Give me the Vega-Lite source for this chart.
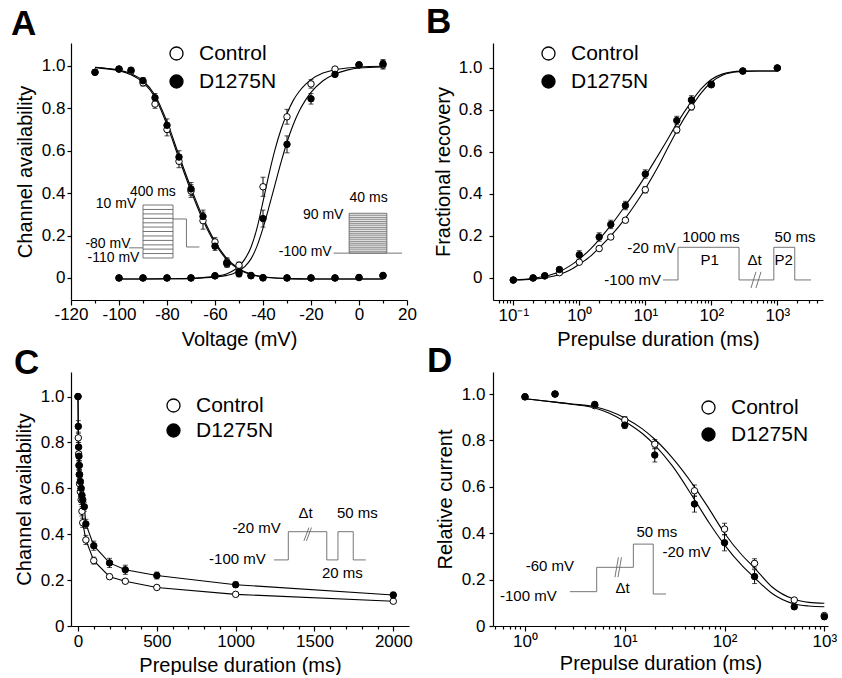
{
"$schema": "https://vega.github.io/schema/vega-lite/v6.json",
"padding": {"left": 11, "top": 5, "right": 5, "bottom": 0},
"config": {
 "font": "Liberation Sans",
 "view": {"stroke": null},
 "axis": {"grid": false, "domainColor": "#000", "tickColor": "#000", "labelColor": "#000", "titleColor": "#000", "labelFontSize": 17, "titleFontSize": 20, "titleFontWeight": "normal", "labelFont": "Liberation Sans", "titleFont": "Liberation Sans", "domainWidth": 1.2, "tickWidth": 1.2, "labelFlush": false, "labelOverlap": false},
 "legend": {"labelFontSize": 21, "labelFont": "Liberation Sans", "labelColor": "#000", "symbolType": "circle", "symbolSize": 170, "symbolStrokeColor": "#000", "symbolStrokeWidth": 1.3, "labelOffset": 12, "rowPadding": 6, "padding": 0},
 "title": {"font": "Liberation Sans", "fontSize": 35, "fontWeight": "bold", "color": "#000", "anchor": "start", "frame": "group", "offset": 0, "baseline": "alphabetic"}
},
"datasets": {
 "a_pts": [
  {"g":"Control","v":-110,"y":0.97,"e":0.01},{"g":"Control","v":-100,"y":0.985,"e":0.01},{"g":"Control","v":-95,"y":0.975,"e":0.012},{"g":"Control","v":-90,"y":0.92,"e":0.015},{"g":"Control","v":-85,"y":0.82,"e":0.02},{"g":"Control","v":-80,"y":0.70,"e":0.03},{"g":"Control","v":-75,"y":0.55,"e":0.03},{"g":"Control","v":-70,"y":0.41,"e":0.03},{"g":"Control","v":-65,"y":0.27,"e":0.04},{"g":"Control","v":-60,"y":0.17,"e":0.02},{"g":"Control","v":-55,"y":0.075,"e":0.02},{"g":"Control","v":-50,"y":0.05,"e":0.02},{"g":"Control","v":-45,"y":0.012,"e":0.01},{"g":"Control","v":-40,"y":0.002,"e":0},{"g":"Control","v":-30,"y":0.0,"e":0},{"g":"Control","v":-20,"y":0.0,"e":0},{"g":"Control","v":-10,"y":0.0,"e":0},{"g":"Control","v":0,"y":0.002,"e":0},{"g":"Control","v":10,"y":0.01,"e":0},
  {"g":"Control","v":-100,"y":0.0,"e":0},{"g":"Control","v":-90,"y":0.0,"e":0},{"g":"Control","v":-80,"y":0.0,"e":0},{"g":"Control","v":-70,"y":0.0,"e":0},{"g":"Control","v":-60,"y":0.01,"e":0},{"g":"Control","v":-55,"y":0.065,"e":0.01},{"g":"Control","v":-50,"y":0.06,"e":0.015},{"g":"Control","v":-40,"y":0.43,"e":0.045},{"g":"Control","v":-30,"y":0.76,"e":0.035},{"g":"Control","v":-20,"y":0.915,"e":0.02},{"g":"Control","v":-10,"y":0.985,"e":0.008},{"g":"Control","v":0,"y":1.005,"e":0},{"g":"Control","v":10,"y":1.005,"e":0.02},
  {"g":"D1275N","v":-110,"y":0.97,"e":0.01},{"g":"D1275N","v":-100,"y":0.985,"e":0.008},{"g":"D1275N","v":-95,"y":0.98,"e":0.01},{"g":"D1275N","v":-90,"y":0.93,"e":0.015},{"g":"D1275N","v":-85,"y":0.85,"e":0.02},{"g":"D1275N","v":-80,"y":0.72,"e":0.03},{"g":"D1275N","v":-75,"y":0.57,"e":0.03},{"g":"D1275N","v":-70,"y":0.42,"e":0.03},{"g":"D1275N","v":-65,"y":0.29,"e":0.03},{"g":"D1275N","v":-60,"y":0.15,"e":0.02},{"g":"D1275N","v":-55,"y":0.07,"e":0.02},{"g":"D1275N","v":-50,"y":0.03,"e":0.02},{"g":"D1275N","v":-45,"y":0.01,"e":0.01},{"g":"D1275N","v":-40,"y":0.0,"e":0},{"g":"D1275N","v":-30,"y":0.0,"e":0},{"g":"D1275N","v":-20,"y":0.0,"e":0},{"g":"D1275N","v":-10,"y":0.0,"e":0},{"g":"D1275N","v":0,"y":0.002,"e":0},{"g":"D1275N","v":10,"y":0.012,"e":0},
  {"g":"D1275N","v":-100,"y":0.0,"e":0},{"g":"D1275N","v":-90,"y":0.0,"e":0},{"g":"D1275N","v":-80,"y":0.0,"e":0},{"g":"D1275N","v":-70,"y":0.0,"e":0},{"g":"D1275N","v":-60,"y":0.01,"e":0},{"g":"D1275N","v":-55,"y":0.07,"e":0.01},{"g":"D1275N","v":-50,"y":0.02,"e":0.015},{"g":"D1275N","v":-40,"y":0.28,"e":0.04},{"g":"D1275N","v":-30,"y":0.63,"e":0.04},{"g":"D1275N","v":-20,"y":0.845,"e":0.025},{"g":"D1275N","v":-10,"y":0.96,"e":0.01},{"g":"D1275N","v":0,"y":1.005,"e":0},{"g":"D1275N","v":10,"y":1.01,"e":0.02}
 ],
 "a_fit": [
  {"c":"ic","v":-110,"y":0.992},{"c":"ic","v":-105,"y":0.986},{"c":"ic","v":-100,"y":0.977},{"c":"ic","v":-95,"y":0.958},{"c":"ic","v":-90,"y":0.922},{"c":"ic","v":-85,"y":0.852},{"c":"ic","v":-80,"y":0.722},{"c":"ic","v":-75,"y":0.563},{"c":"ic","v":-70,"y":0.41},{"c":"ic","v":-65,"y":0.272},{"c":"ic","v":-60,"y":0.163},{"c":"ic","v":-55,"y":0.085},{"c":"ic","v":-50,"y":0.04},{"c":"ic","v":-45,"y":0.016},{"c":"ic","v":-40,"y":0.005},{"c":"ic","v":-35,"y":0.0},{"c":"ic","v":-30,"y":-0.003},{"c":"ic","v":-20,"y":-0.005},{"c":"ic","v":-10,"y":-0.005},{"c":"ic","v":0,"y":-0.005},{"c":"ic","v":10,"y":-0.005},
  {"c":"id","v":-110,"y":0.993},{"c":"id","v":-105,"y":0.988},{"c":"id","v":-100,"y":0.98},{"c":"id","v":-95,"y":0.963},{"c":"id","v":-90,"y":0.93},{"c":"id","v":-85,"y":0.862},{"c":"id","v":-80,"y":0.737},{"c":"id","v":-75,"y":0.578},{"c":"id","v":-70,"y":0.425},{"c":"id","v":-65,"y":0.285},{"c":"id","v":-60,"y":0.172},{"c":"id","v":-55,"y":0.091},{"c":"id","v":-50,"y":0.044},{"c":"id","v":-45,"y":0.018},{"c":"id","v":-40,"y":0.006},{"c":"id","v":-35,"y":0.0},{"c":"id","v":-30,"y":-0.003},{"c":"id","v":-20,"y":-0.005},{"c":"id","v":-10,"y":-0.005},{"c":"id","v":0,"y":-0.005},{"c":"id","v":10,"y":-0.005},
  {"c":"ac","v":-100,"y":-0.005},{"c":"ac","v":-90,"y":-0.005},{"c":"ac","v":-80,"y":-0.004},{"c":"ac","v":-70,"y":-0.002},{"c":"ac","v":-65,"y":0.002},{"c":"ac","v":-60,"y":0.008},{"c":"ac","v":-55,"y":0.02},{"c":"ac","v":-52.5,"y":0.034},{"c":"ac","v":-50,"y":0.055},{"c":"ac","v":-47.5,"y":0.09},{"c":"ac","v":-45,"y":0.145},{"c":"ac","v":-42.5,"y":0.235},{"c":"ac","v":-40,"y":0.36},{"c":"ac","v":-37.5,"y":0.49},{"c":"ac","v":-35,"y":0.605},{"c":"ac","v":-32.5,"y":0.7},{"c":"ac","v":-30,"y":0.775},{"c":"ac","v":-27.5,"y":0.835},{"c":"ac","v":-25,"y":0.878},{"c":"ac","v":-22.5,"y":0.91},{"c":"ac","v":-20,"y":0.935},{"c":"ac","v":-15,"y":0.966},{"c":"ac","v":-10,"y":0.982},{"c":"ac","v":-5,"y":0.99},{"c":"ac","v":0,"y":0.995},{"c":"ac","v":10,"y":0.998},
  {"c":"ad","v":-100,"y":-0.005},{"c":"ad","v":-90,"y":-0.005},{"c":"ad","v":-80,"y":-0.004},{"c":"ad","v":-70,"y":-0.003},{"c":"ad","v":-65,"y":0.0},{"c":"ad","v":-60,"y":0.004},{"c":"ad","v":-55,"y":0.012},{"c":"ad","v":-52.5,"y":0.02},{"c":"ad","v":-50,"y":0.034},{"c":"ad","v":-47.5,"y":0.055},{"c":"ad","v":-45,"y":0.09},{"c":"ad","v":-42.5,"y":0.15},{"c":"ad","v":-40,"y":0.235},{"c":"ad","v":-37.5,"y":0.335},{"c":"ad","v":-35,"y":0.44},{"c":"ad","v":-32.5,"y":0.545},{"c":"ad","v":-30,"y":0.64},{"c":"ad","v":-27.5,"y":0.72},{"c":"ad","v":-25,"y":0.785},{"c":"ad","v":-22.5,"y":0.835},{"c":"ad","v":-20,"y":0.875},{"c":"ad","v":-15,"y":0.93},{"c":"ad","v":-10,"y":0.962},{"c":"ad","v":-5,"y":0.98},{"c":"ad","v":0,"y":0.99},{"c":"ad","v":10,"y":0.995}
 ],
 "a_ins": [
  {"x":-90,"x2":-77.5,"y":0.094,"y2":0.094},{"x":-90,"x2":-77.5,"y":0.115,"y2":0.115},{"x":-90,"x2":-77.5,"y":0.136,"y2":0.136},{"x":-90,"x2":-77.5,"y":0.156,"y2":0.156},{"x":-90,"x2":-77.5,"y":0.177,"y2":0.177},{"x":-90,"x2":-77.5,"y":0.198,"y2":0.198},{"x":-90,"x2":-77.5,"y":0.219,"y2":0.219},{"x":-90,"x2":-77.5,"y":0.24,"y2":0.24},{"x":-90,"x2":-77.5,"y":0.26,"y2":0.26},{"x":-90,"x2":-77.5,"y":0.281,"y2":0.281},{"x":-90,"x2":-77.5,"y":0.302,"y2":0.302},{"x":-90,"x2":-77.5,"y":0.323,"y2":0.323},{"x":-90,"x2":-77.5,"y":0.344,"y2":0.344},
  {"x":-90,"x2":-90,"y":0.094,"y2":0.344},{"x":-77.5,"x2":-77.5,"y":0.094,"y2":0.344},
  {"x":-95.8,"x2":-90,"y":0.142,"y2":0.142},
  {"x":-77.5,"x2":-71.9,"y":0.278,"y2":0.278},{"x":-71.9,"x2":-71.9,"y":0.278,"y2":0.146},{"x":-71.9,"x2":-66.5,"y":0.146,"y2":0.146},
  {"x":-4.1,"x2":11.6,"y":0.117,"y2":0.117},{"x":-4.1,"x2":11.6,"y":0.126,"y2":0.126},{"x":-4.1,"x2":11.6,"y":0.136,"y2":0.136},{"x":-4.1,"x2":11.6,"y":0.145,"y2":0.145},{"x":-4.1,"x2":11.6,"y":0.155,"y2":0.155},{"x":-4.1,"x2":11.6,"y":0.164,"y2":0.164},{"x":-4.1,"x2":11.6,"y":0.173,"y2":0.173},{"x":-4.1,"x2":11.6,"y":0.183,"y2":0.183},{"x":-4.1,"x2":11.6,"y":0.192,"y2":0.192},{"x":-4.1,"x2":11.6,"y":0.202,"y2":0.202},{"x":-4.1,"x2":11.6,"y":0.211,"y2":0.211},{"x":-4.1,"x2":11.6,"y":0.22,"y2":0.22},{"x":-4.1,"x2":11.6,"y":0.23,"y2":0.23},{"x":-4.1,"x2":11.6,"y":0.239,"y2":0.239},{"x":-4.1,"x2":11.6,"y":0.249,"y2":0.249},{"x":-4.1,"x2":11.6,"y":0.258,"y2":0.258},{"x":-4.1,"x2":11.6,"y":0.267,"y2":0.267},{"x":-4.1,"x2":11.6,"y":0.277,"y2":0.277},{"x":-4.1,"x2":11.6,"y":0.286,"y2":0.286},{"x":-4.1,"x2":11.6,"y":0.296,"y2":0.296},{"x":-4.1,"x2":11.6,"y":0.305,"y2":0.305},
  {"x":-4.1,"x2":-4.1,"y":0.117,"y2":0.305},{"x":11.6,"x2":11.6,"y":0.117,"y2":0.305},
  {"x":-10.6,"x2":17.9,"y":0.117,"y2":0.117}
 ],
 "a_txr": [
  {"t":"10 mV","x":-92.8,"y":0.348},{"t":"-80 mV","x":-95.2,"y":0.161},{"t":"-110 mV","x":-91.5,"y":0.092},{"t":"90 mV","x":-6.5,"y":0.297},{"t":"-100 mV","x":-11.4,"y":0.124}
 ],
 "a_txc": [
  {"t":"400 ms","x":-85.9,"y":0.407},{"t":"40 ms","x":4.0,"y":0.376}
 ],
 "b_pts": [
  {"g":"Control","v":0.1,"y":-0.01,"e":0},{"g":"Control","v":0.2,"y":0.0,"e":0},{"g":"Control","v":0.3,"y":0.01,"e":0},{"g":"Control","v":0.5,"y":0.025,"e":0.008},{"g":"Control","v":1,"y":0.075,"e":0.01},{"g":"Control","v":2,"y":0.14,"e":0.01},{"g":"Control","v":3,"y":0.195,"e":0.01},{"g":"Control","v":5,"y":0.275,"e":0.012},{"g":"Control","v":10,"y":0.42,"e":0.015},{"g":"Control","v":30,"y":0.705,"e":0.015},{"g":"Control","v":50,"y":0.815,"e":0.015},{"g":"Control","v":100,"y":0.92,"e":0},{"g":"Control","v":300,"y":0.985,"e":0},{"g":"Control","v":1000,"y":1.0,"e":0},
  {"g":"D1275N","v":0.1,"y":-0.01,"e":0},{"g":"D1275N","v":0.2,"y":0.0,"e":0},{"g":"D1275N","v":0.3,"y":0.01,"e":0.005},{"g":"D1275N","v":0.5,"y":0.04,"e":0.01},{"g":"D1275N","v":1,"y":0.11,"e":0.02},{"g":"D1275N","v":2,"y":0.195,"e":0.02},{"g":"D1275N","v":3,"y":0.255,"e":0.02},{"g":"D1275N","v":5,"y":0.345,"e":0.02},{"g":"D1275N","v":10,"y":0.495,"e":0.02},{"g":"D1275N","v":30,"y":0.75,"e":0.02},{"g":"D1275N","v":50,"y":0.848,"e":0.02},{"g":"D1275N","v":100,"y":0.922,"e":0.015},{"g":"D1275N","v":300,"y":0.986,"e":0.008},{"g":"D1275N","v":1000,"y":1.0,"e":0.005}
 ],
 "b_fit": [
  {"c":"bd","v":0.1,"y":-0.01},{"c":"bd","v":0.2,"y":-0.002},{"c":"bd","v":0.3,"y":0.008},{"c":"bd","v":0.5,"y":0.03},{"c":"bd","v":0.7,"y":0.055},{"c":"bd","v":1,"y":0.09},{"c":"bd","v":1.5,"y":0.14},{"c":"bd","v":2,"y":0.183},{"c":"bd","v":3,"y":0.25},{"c":"bd","v":5,"y":0.345},{"c":"bd","v":7,"y":0.41},{"c":"bd","v":10,"y":0.485},{"c":"bd","v":15,"y":0.575},{"c":"bd","v":20,"y":0.64},{"c":"bd","v":30,"y":0.735},{"c":"bd","v":50,"y":0.84},{"c":"bd","v":70,"y":0.9},{"c":"bd","v":100,"y":0.945},{"c":"bd","v":150,"y":0.972},{"c":"bd","v":200,"y":0.981},{"c":"bd","v":300,"y":0.985},{"c":"bd","v":500,"y":0.986},{"c":"bd","v":1000,"y":0.986},
  {"c":"bc","v":0.1,"y":-0.01},{"c":"bc","v":0.2,"y":-0.006},{"c":"bc","v":0.3,"y":0.0},{"c":"bc","v":0.5,"y":0.016},{"c":"bc","v":0.7,"y":0.035},{"c":"bc","v":1,"y":0.065},{"c":"bc","v":1.5,"y":0.105},{"c":"bc","v":2,"y":0.143},{"c":"bc","v":3,"y":0.2},{"c":"bc","v":5,"y":0.285},{"c":"bc","v":7,"y":0.35},{"c":"bc","v":10,"y":0.425},{"c":"bc","v":15,"y":0.52},{"c":"bc","v":20,"y":0.595},{"c":"bc","v":30,"y":0.7},{"c":"bc","v":50,"y":0.815},{"c":"bc","v":70,"y":0.88},{"c":"bc","v":100,"y":0.932},{"c":"bc","v":150,"y":0.967},{"c":"bc","v":200,"y":0.978},{"c":"bc","v":300,"y":0.984},{"c":"bc","v":500,"y":0.986},{"c":"bc","v":1000,"y":0.986}
 ],
 "b_ins": [
  {"x":18.5,"x2":31.3,"y":-0.0095,"y2":-0.0095},{"x":31.3,"x2":31.3,"y":-0.0095,"y2":0.146},{"x":31.3,"x2":263,"y":0.146,"y2":0.146},{"x":263,"x2":263,"y":0.146,"y2":-0.0095},{"x":263,"x2":885,"y":-0.0095,"y2":-0.0095},{"x":885,"x2":885,"y":-0.0095,"y2":0.146},{"x":885,"x2":1837,"y":0.146,"y2":0.146},{"x":1837,"x2":1837,"y":0.146,"y2":-0.0095},{"x":1837,"x2":3236,"y":-0.0095,"y2":-0.0095},
  {"x":399,"x2":475,"y":-0.048,"y2":0.029},{"x":475,"x2":566,"y":-0.048,"y2":0.029}
 ],
 "b_txr": [
  {"t":"-20 mV","x":28.8,"y":0.143},{"t":"-100 mV","x":17.3,"y":-0.01}
 ],
 "b_txc": [
  {"t":"1000 ms","x":99,"y":0.195},{"t":"P1","x":94.6,"y":0.086},{"t":"Δt","x":454,"y":0.086},{"t":"50 ms","x":1850,"y":0.195},{"t":"P2","x":1250,"y":0.086}
 ],
 "c_pts": [
  {"g":"Control","v":0,"y":1.0,"e":0},{"g":"Control","v":2,"y":0.82,"e":0.02},{"g":"Control","v":4,"y":0.75,"e":0.02},{"g":"Control","v":6,"y":0.70,"e":0.02},{"g":"Control","v":8,"y":0.66,"e":0.02},{"g":"Control","v":10,"y":0.62,"e":0.02},{"g":"Control","v":15,"y":0.585,"e":0.02},{"g":"Control","v":20,"y":0.55,"e":0.02},{"g":"Control","v":25,"y":0.50,"e":0.02},{"g":"Control","v":30,"y":0.45,"e":0.02},{"g":"Control","v":50,"y":0.375,"e":0.02},{"g":"Control","v":100,"y":0.285,"e":0.015},{"g":"Control","v":200,"y":0.215,"e":0.01},{"g":"Control","v":300,"y":0.195,"e":0.01},{"g":"Control","v":500,"y":0.168,"e":0.008},{"g":"Control","v":1000,"y":0.138,"e":0.008},{"g":"Control","v":2000,"y":0.108,"e":0.01},
  {"g":"D1275N","v":0,"y":1.0,"e":0},{"g":"D1275N","v":2,"y":0.87,"e":0.025},{"g":"D1275N","v":4,"y":0.78,"e":0.02},{"g":"D1275N","v":6,"y":0.74,"e":0.02},{"g":"D1275N","v":8,"y":0.70,"e":0.02},{"g":"D1275N","v":10,"y":0.66,"e":0.02},{"g":"D1275N","v":15,"y":0.63,"e":0.02},{"g":"D1275N","v":20,"y":0.60,"e":0.02},{"g":"D1275N","v":25,"y":0.57,"e":0.02},{"g":"D1275N","v":30,"y":0.55,"e":0.02},{"g":"D1275N","v":40,"y":0.52,"e":0.02},{"g":"D1275N","v":50,"y":0.445,"e":0.02},{"g":"D1275N","v":100,"y":0.35,"e":0.02},{"g":"D1275N","v":200,"y":0.275,"e":0.02},{"g":"D1275N","v":300,"y":0.245,"e":0.02},{"g":"D1275N","v":500,"y":0.22,"e":0.015},{"g":"D1275N","v":1000,"y":0.18,"e":0.012},{"g":"D1275N","v":2000,"y":0.135,"e":0.012}
 ],
 "c_ins": [
  {"x":1243,"x2":1334,"y":0.288,"y2":0.288},{"x":1334,"x2":1334,"y":0.288,"y2":0.411},{"x":1334,"x2":1578,"y":0.411,"y2":0.411},{"x":1578,"x2":1578,"y":0.411,"y2":0.288},{"x":1578,"x2":1649,"y":0.288,"y2":0.288},{"x":1649,"x2":1649,"y":0.288,"y2":0.411},{"x":1649,"x2":1746,"y":0.411,"y2":0.411},{"x":1746,"x2":1746,"y":0.411,"y2":0.288},{"x":1746,"x2":1825,"y":0.288,"y2":0.288},
  {"x":1433,"x2":1465,"y":0.371,"y2":0.429},{"x":1449,"x2":1481,"y":0.371,"y2":0.429}
 ],
 "c_txr": [
  {"t":"-20 mV","x":1286,"y":0.425},{"t":"-100 mV","x":1191,"y":0.291}
 ],
 "c_txc": [
  {"t":"Δt","x":1444,"y":0.491},{"t":"50 ms","x":1772,"y":0.491},{"t":"20 ms","x":1677,"y":0.233}
 ],
 "d_pts": [
  {"g":"Control","v":1,"y":0.988,"e":0},{"g":"Control","v":2,"y":1.0,"e":0},{"g":"Control","v":5,"y":0.95,"e":0.01},{"g":"Control","v":10,"y":0.888,"e":0.015},{"g":"Control","v":20,"y":0.784,"e":0.02},{"g":"Control","v":50,"y":0.583,"e":0.025},{"g":"Control","v":100,"y":0.418,"e":0.025},{"g":"Control","v":200,"y":0.27,"e":0.02},{"g":"Control","v":500,"y":0.112,"e":0.01},{"g":"Control","v":1000,"y":0.045,"e":0},
  {"g":"D1275N","v":1,"y":0.988,"e":0.005},{"g":"D1275N","v":2,"y":1.0,"e":0},{"g":"D1275N","v":5,"y":0.955,"e":0.01},{"g":"D1275N","v":10,"y":0.866,"e":0.015},{"g":"D1275N","v":20,"y":0.737,"e":0.03},{"g":"D1275N","v":50,"y":0.526,"e":0.035},{"g":"D1275N","v":100,"y":0.359,"e":0.035},{"g":"D1275N","v":200,"y":0.213,"e":0.03},{"g":"D1275N","v":500,"y":0.083,"e":0.01},{"g":"D1275N","v":1000,"y":0.04,"e":0.01}
 ],
 "d_fit": [
  {"c":"dc","v":1,"y":0.98},{"c":"dc","v":2,"y":0.965},{"c":"dc","v":3,"y":0.957},{"c":"dc","v":5,"y":0.945},{"c":"dc","v":7,"y":0.927},{"c":"dc","v":10,"y":0.897},{"c":"dc","v":15,"y":0.85},{"c":"dc","v":20,"y":0.805},{"c":"dc","v":30,"y":0.725},{"c":"dc","v":50,"y":0.6},{"c":"dc","v":70,"y":0.505},{"c":"dc","v":100,"y":0.4},{"c":"dc","v":150,"y":0.305},{"c":"dc","v":200,"y":0.25},{"c":"dc","v":300,"y":0.168},{"c":"dc","v":500,"y":0.115},{"c":"dc","v":700,"y":0.102},{"c":"dc","v":1000,"y":0.098},
  {"c":"dd","v":1,"y":0.98},{"c":"dd","v":2,"y":0.965},{"c":"dd","v":3,"y":0.955},{"c":"dd","v":5,"y":0.94},{"c":"dd","v":7,"y":0.917},{"c":"dd","v":10,"y":0.882},{"c":"dd","v":15,"y":0.83},{"c":"dd","v":20,"y":0.78},{"c":"dd","v":30,"y":0.69},{"c":"dd","v":50,"y":0.545},{"c":"dd","v":70,"y":0.445},{"c":"dd","v":100,"y":0.35},{"c":"dd","v":150,"y":0.26},{"c":"dd","v":200,"y":0.208},{"c":"dd","v":300,"y":0.14},{"c":"dd","v":500,"y":0.095},{"c":"dd","v":700,"y":0.086},{"c":"dd","v":1000,"y":0.083}
 ],
 "d_ins": [
  {"x":2.82,"x2":5.23,"y":0.148,"y2":0.148},{"x":5.23,"x2":5.23,"y":0.148,"y2":0.253},{"x":5.23,"x2":12.2,"y":0.253,"y2":0.253},{"x":12.2,"x2":12.2,"y":0.253,"y2":0.353},{"x":12.2,"x2":19.3,"y":0.353,"y2":0.353},{"x":19.3,"x2":19.3,"y":0.353,"y2":0.138},{"x":19.3,"x2":25.9,"y":0.138,"y2":0.138},
  {"x":7.97,"x2":8.64,"y":0.21,"y2":0.296},{"x":8.55,"x2":9.27,"y":0.21,"y2":0.296}
 ],
 "d_txr": [
  {"t":"-60 mV","x":3.1,"y":0.257},{"t":"-100 mV","x":2.08,"y":0.128}
 ],
 "d_txc": [
  {"t":"Δt","x":9.5,"y":0.163},{"t":"50 ms","x":21,"y":0.406},{"t":"-20 mV","x":41.7,"y":0.32}
 ]
},
"columns": 2,
"spacing": {"row": 72, "column": 84},
"bounds": "flush",
"resolve": {"scale": {"fill": "independent"}, "legend": {"fill": "independent"}},
"concat": [
 {
  "width": 336, "height": 257,
  "title": {"text": "A", "dx": -60, "dy": 3},
  "resolve": {"axis": {"x": "independent"}},
  "layer": [
   {"data": {"name": "a_fit"}, "mark": {"type": "line", "color": "#000", "strokeWidth": 1.1, "interpolate": "monotone"},
    "encoding": {
     "x": {"field": "v", "type": "quantitative", "scale": {"domain": [-120, 20], "nice": false, "zero": false}, "axis": {"orient": "bottom", "values": [-110,-90,-70,-50,-30,-10,10], "labels": false, "domain": false, "tickSize": 3, "title": null}},
     "y": {"field": "y", "type": "quantitative", "title": "Channel availability", "scale": {"domain": [-0.104, 1.108], "nice": false, "zero": false}},
     "detail": {"field": "c"}}},
   {"data": {"name": "a_ins"}, "mark": {"type": "rule", "color": "#666", "strokeWidth": 0.9},
    "encoding": {"x": {"field": "x", "type": "quantitative", "axis": null}, "x2": {"field": "x2"}, "y": {"field": "y", "type": "quantitative", "title": "Channel availability"}, "y2": {"field": "y2"}}},
   {"data": {"name": "a_txr"}, "mark": {"type": "text", "align": "right", "baseline": "middle", "fontSize": 14, "color": "#000"},
    "encoding": {"x": {"field": "x", "type": "quantitative", "axis": null}, "y": {"field": "y", "type": "quantitative", "title": "Channel availability"}, "text": {"field": "t"}}},
   {"data": {"name": "a_txc"}, "mark": {"type": "text", "align": "center", "baseline": "middle", "fontSize": 14, "color": "#000"},
    "encoding": {"x": {"field": "x", "type": "quantitative", "axis": null}, "y": {"field": "y", "type": "quantitative", "title": "Channel availability"}, "text": {"field": "t"}}},
   {"data": {"name": "a_pts"}, "transform": [{"filter": "datum.e > 0"}], "mark": {"type": "errorbar", "color": "#000", "ticks": {"size": 5}, "thickness": 1},
    "encoding": {"x": {"field": "v", "type": "quantitative", "axis": null}, "y": {"field": "y", "type": "quantitative", "title": "Channel availability"}, "yError": {"field": "e"}}},
   {"data": {"name": "a_pts"}, "mark": {"type": "point", "shape": "circle", "size": 42, "stroke": "#000", "strokeWidth": 1, "opacity": 1},
    "encoding": {
     "x": {"field": "v", "type": "quantitative", "axis": {"orient": "bottom", "values": [-120,-100,-80,-60,-40,-20,0,20], "labelExpr": "toString(datum.value)", "title": "Voltage (mV)", "tickSize": 5, "labelPadding": 1, "titlePadding": 7}},
     "y": {"field": "y", "type": "quantitative", "title": "Channel availability", "axis": {"values": [0,0.2,0.4,0.6,0.8,1], "labelExpr": "datum.value == 0 ? '0' : format(datum.value, '.1f')", "tickSize": 4, "labelPadding": 2, "titlePadding": 6}},
     "fill": {"field": "g", "type": "nominal", "scale": {"domain": ["Control", "D1275N"], "range": ["#fff", "#000"]}, "legend": {"title": null, "orient": "none", "legendX": 95, "legendY": 0}}}}
  ]
 },
 {
  "width": 330, "height": 257,
  "title": {"text": "B", "dx": -67, "dy": 1},
  "resolve": {"axis": {"x": "independent"}},
  "layer": [
   {"data": {"name": "b_fit"}, "mark": {"type": "line", "color": "#000", "strokeWidth": 1.1, "interpolate": "monotone"},
    "encoding": {
     "x": {"field": "v", "type": "quantitative", "scale": {"type": "log", "domain": [0.0493, 4920], "nice": false}, "axis": {"orient": "bottom", "values": [0.06,0.07,0.08,0.09,0.2,0.3,0.4,0.5,0.6,0.7,0.8,0.9,2,3,4,5,6,7,8,9,20,30,40,50,60,70,80,90,200,300,400,500,600,700,800,900,2000,3000,4000], "labels": false, "domain": false, "tickSize": 3, "title": null}},
     "y": {"field": "y", "type": "quantitative", "title": "Fractional recovery", "scale": {"domain": [-0.105, 1.119], "nice": false, "zero": false}},
     "detail": {"field": "c"}}},
   {"data": {"name": "b_ins"}, "mark": {"type": "rule", "color": "#666", "strokeWidth": 0.9},
    "encoding": {"x": {"field": "x", "type": "quantitative", "axis": null}, "x2": {"field": "x2"}, "y": {"field": "y", "type": "quantitative", "title": "Fractional recovery"}, "y2": {"field": "y2"}}},
   {"data": {"name": "b_txr"}, "mark": {"type": "text", "align": "right", "baseline": "middle", "fontSize": 15, "color": "#000"},
    "encoding": {"x": {"field": "x", "type": "quantitative", "axis": null}, "y": {"field": "y", "type": "quantitative", "title": "Fractional recovery"}, "text": {"field": "t"}}},
   {"data": {"name": "b_txc"}, "mark": {"type": "text", "align": "center", "baseline": "middle", "fontSize": 15, "color": "#000"},
    "encoding": {"x": {"field": "x", "type": "quantitative", "axis": null}, "y": {"field": "y", "type": "quantitative", "title": "Fractional recovery"}, "text": {"field": "t"}}},
   {"data": {"name": "b_pts"}, "transform": [{"filter": "datum.e > 0"}], "mark": {"type": "errorbar", "color": "#000", "ticks": {"size": 5}, "thickness": 1},
    "encoding": {"x": {"field": "v", "type": "quantitative", "axis": null}, "y": {"field": "y", "type": "quantitative", "title": "Fractional recovery"}, "yError": {"field": "e"}}},
   {"data": {"name": "b_pts"}, "mark": {"type": "point", "shape": "circle", "size": 42, "stroke": "#000", "strokeWidth": 1, "opacity": 1},
    "encoding": {
     "x": {"field": "v", "type": "quantitative", "axis": {"orient": "bottom", "values": [0.1,1,10,100,1000], "labelExpr": "datum.value < 0.5 ? '10⁻¹' : datum.value < 5 ? '10⁰' : datum.value < 50 ? '10¹' : datum.value < 500 ? '10²' : '10³'", "title": "Prepulse duration (ms)", "tickSize": 5, "labelPadding": 2, "titlePadding": 6}},
     "y": {"field": "y", "type": "quantitative", "title": "Fractional recovery", "axis": {"values": [0,0.2,0.4,0.6,0.8,1], "labelExpr": "datum.value == 0 ? '0' : format(datum.value, '.1f')", "tickSize": 4, "labelPadding": 7, "titlePadding": 5}},
     "fill": {"field": "g", "type": "nominal", "scale": {"domain": ["Control", "D1275N"], "range": ["#fff", "#000"]}, "legend": {"title": null, "orient": "none", "legendX": 45, "legendY": 0}}}}
  ]
 },
 {
  "width": 338, "height": 254,
  "title": {"text": "C", "dx": -57, "dy": 13},
  "resolve": {"axis": {"x": "independent"}},
  "layer": [
   {"data": {"name": "c_pts"}, "mark": {"type": "line", "color": "#000", "strokeWidth": 1.1},
    "encoding": {
     "x": {"field": "v", "type": "quantitative", "scale": {"domain": [-44.4, 2099.6], "nice": false, "zero": false}, "axis": {"orient": "bottom", "values": [100,200,300,400,600,700,800,900,1100,1200,1300,1400,1600,1700,1800,1900], "labels": false, "domain": false, "tickSize": 3, "title": null}},
     "y": {"field": "y", "type": "quantitative", "title": "Channel availability", "scale": {"domain": [0, 1.107], "nice": false, "zero": false}},
     "detail": {"field": "g"}}},
   {"data": {"name": "c_ins"}, "mark": {"type": "rule", "color": "#666", "strokeWidth": 0.9},
    "encoding": {"x": {"field": "x", "type": "quantitative", "axis": null}, "x2": {"field": "x2"}, "y": {"field": "y", "type": "quantitative", "title": "Channel availability"}, "y2": {"field": "y2"}}},
   {"data": {"name": "c_txr"}, "mark": {"type": "text", "align": "right", "baseline": "middle", "fontSize": 15, "color": "#000"},
    "encoding": {"x": {"field": "x", "type": "quantitative", "axis": null}, "y": {"field": "y", "type": "quantitative", "title": "Channel availability"}, "text": {"field": "t"}}},
   {"data": {"name": "c_txc"}, "mark": {"type": "text", "align": "center", "baseline": "middle", "fontSize": 15, "color": "#000"},
    "encoding": {"x": {"field": "x", "type": "quantitative", "axis": null}, "y": {"field": "y", "type": "quantitative", "title": "Channel availability"}, "text": {"field": "t"}}},
   {"data": {"name": "c_pts"}, "transform": [{"filter": "datum.e > 0"}], "mark": {"type": "errorbar", "color": "#000", "ticks": {"size": 5}, "thickness": 1},
    "encoding": {"x": {"field": "v", "type": "quantitative", "axis": null}, "y": {"field": "y", "type": "quantitative", "title": "Channel availability"}, "yError": {"field": "e"}}},
   {"data": {"name": "c_pts"}, "mark": {"type": "point", "shape": "circle", "size": 42, "stroke": "#000", "strokeWidth": 1, "opacity": 1},
    "encoding": {
     "x": {"field": "v", "type": "quantitative", "axis": {"orient": "bottom", "values": [0,500,1000,1500,2000], "labelExpr": "toString(datum.value)", "title": "Prepulse duration (ms)", "tickSize": 5, "labelPadding": 2, "titlePadding": 6}},
     "y": {"field": "y", "type": "quantitative", "title": "Channel availability", "axis": {"values": [0,0.2,0.4,0.6,0.8,1], "labelExpr": "datum.value == 0 ? '0' : format(datum.value, '.1f')", "tickSize": 4, "labelPadding": 3, "titlePadding": 6}},
     "fill": {"field": "g", "type": "nominal", "scale": {"domain": ["Control", "D1275N"], "range": ["#fff", "#000"]}, "legend": {"title": null, "orient": "none", "legendX": 92, "legendY": 23, "rowPadding": 3}}}}
  ]
 },
 {
  "width": 335, "height": 254,
  "title": {"text": "D", "dx": -66, "dy": 11},
  "resolve": {"axis": {"x": "independent"}},
  "layer": [
   {"data": {"name": "d_fit"}, "mark": {"type": "line", "color": "#000", "strokeWidth": 1.1, "interpolate": "monotone"},
    "encoding": {
     "x": {"field": "v", "type": "quantitative", "scale": {"type": "log", "domain": [0.478, 1089], "nice": false}, "axis": {"orient": "bottom", "values": [0.5,0.6,0.7,0.8,0.9,2,3,4,5,6,7,8,9,20,30,40,50,60,70,80,90,200,300,400,500,600,700,800,900], "labels": false, "domain": false, "tickSize": 3, "title": null}},
     "y": {"field": "y", "type": "quantitative", "title": "Relative current", "scale": {"domain": [0, 1.095], "nice": false, "zero": false}},
     "detail": {"field": "c"}}},
   {"data": {"name": "d_ins"}, "mark": {"type": "rule", "color": "#666", "strokeWidth": 0.9},
    "encoding": {"x": {"field": "x", "type": "quantitative", "axis": null}, "x2": {"field": "x2"}, "y": {"field": "y", "type": "quantitative", "title": "Relative current"}, "y2": {"field": "y2"}}},
   {"data": {"name": "d_txr"}, "mark": {"type": "text", "align": "right", "baseline": "middle", "fontSize": 15, "color": "#000"},
    "encoding": {"x": {"field": "x", "type": "quantitative", "axis": null}, "y": {"field": "y", "type": "quantitative", "title": "Relative current"}, "text": {"field": "t"}}},
   {"data": {"name": "d_txc"}, "mark": {"type": "text", "align": "center", "baseline": "middle", "fontSize": 15, "color": "#000"},
    "encoding": {"x": {"field": "x", "type": "quantitative", "axis": null}, "y": {"field": "y", "type": "quantitative", "title": "Relative current"}, "text": {"field": "t"}}},
   {"data": {"name": "d_pts"}, "transform": [{"filter": "datum.e > 0"}], "mark": {"type": "errorbar", "color": "#000", "ticks": {"size": 5}, "thickness": 1},
    "encoding": {"x": {"field": "v", "type": "quantitative", "axis": null}, "y": {"field": "y", "type": "quantitative", "title": "Relative current"}, "yError": {"field": "e"}}},
   {"data": {"name": "d_pts"}, "mark": {"type": "point", "shape": "circle", "size": 42, "stroke": "#000", "strokeWidth": 1, "opacity": 1},
    "encoding": {
     "x": {"field": "v", "type": "quantitative", "axis": {"orient": "bottom", "values": [1,10,100,1000], "labelExpr": "datum.value < 5 ? '10⁰' : datum.value < 50 ? '10¹' : datum.value < 500 ? '10²' : '10³'", "title": "Prepulse duration (ms)", "tickSize": 5, "labelPadding": 2, "titlePadding": 4}},
     "y": {"field": "y", "type": "quantitative", "title": "Relative current", "axis": {"values": [0,0.2,0.4,0.6,0.8,1], "labelExpr": "datum.value == 0 ? '0' : format(datum.value, '.1f')", "tickSize": 4, "labelPadding": 4, "titlePadding": 6}},
     "fill": {"field": "g", "type": "nominal", "scale": {"domain": ["Control", "D1275N"], "range": ["#fff", "#000"]}, "legend": {"title": null, "orient": "none", "legendX": 205, "legendY": 25, "rowPadding": 5}}}}
  ]
 }
]
}
